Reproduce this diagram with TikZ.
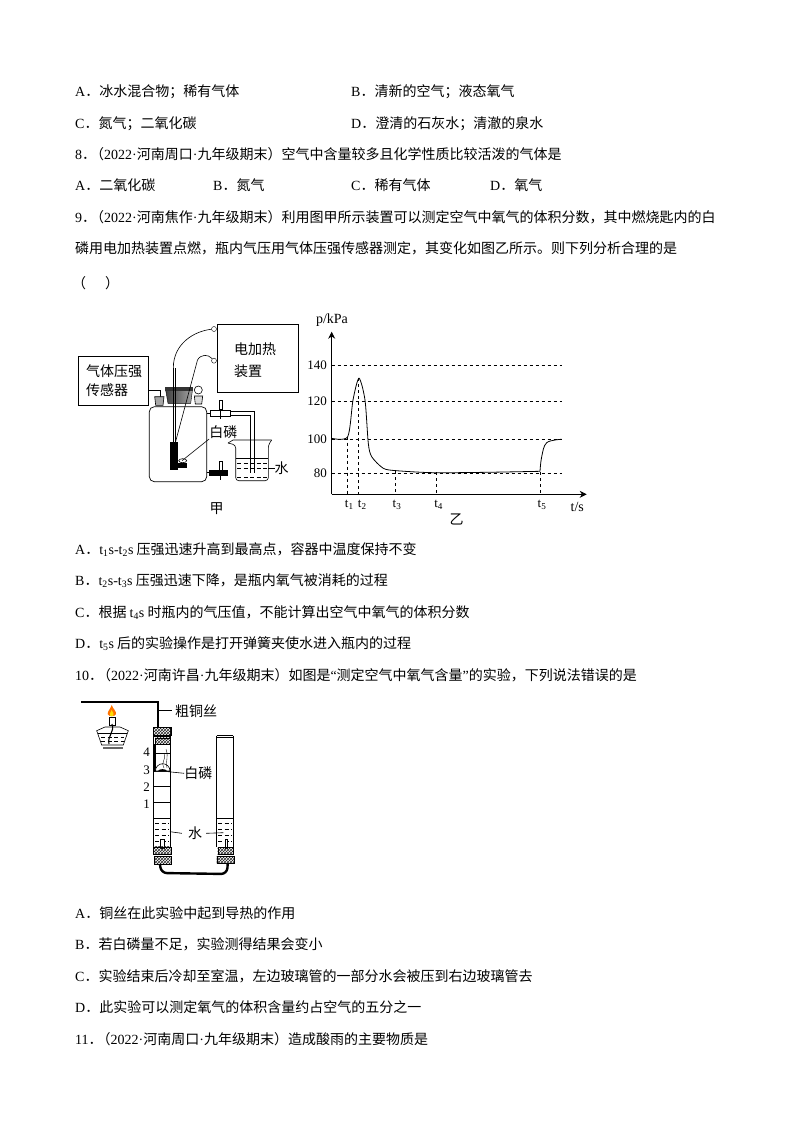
\documentclass[tikz,border=0pt]{standalone}
\usepackage{fontspec}
\setmainfont{Noto Sans CJK SC}
\newfontfamily\latfont{Liberation Serif}
\newcommand{\la}[1]{{\latfont #1}}
\newcommand{\tsub}[1]{{\latfont t\textsubscript{#1}}}
\newcommand{\hdr}[2]{\la{#1}．\hspace{-6pt}（\la{2022·}#2\la{·}}
\usetikzlibrary{arrows.meta,patterns}
\tikzset{
  txt/.style={anchor=west, inner sep=0pt, yshift=-0.6pt, font=\fontsize{14}{14}\selectfont},
  lbl/.style={inner sep=0pt, font=\fontsize{14}{14}\selectfont},
  axlbl/.style={inner sep=0pt, font=\fontsize{13}{13}\selectfont\latfont},
  devbox/.style={draw, line width=0.7pt},
  wire/.style={line width=0.6pt},
  thickwire/.style={line width=1.7pt},
  guide/.style={dashed, line width=0.6pt},
  corkfill/.style={draw, pattern=crosshatch, pattern color=black!85},
  waterline/.style={dash pattern=on 4pt off 2.5pt, line width=0.5pt}
}
\begin{document}
\begin{tikzpicture}[x=1pt,y=-1pt]
  \useasboundingbox (0,0) rectangle (794,1123);
  % Questoes acima da figura
  \node at (75,91) (q7a) [txt] {\la{A}．冰水混合物；稀有气体};
  \node at (351,91) (q7b) [txt] {\la{B}．清新的空气；液态氧气};
  \node at (75,123) (q7c) [txt] {\la{C}．氮气；二氧化碳};
  \node at (351,123) (q7d) [txt] {\la{D}．澄清的石灰水；清澈的泉水};
  \node at (75,154) (q8) [txt] {\hdr{8}{河南周口}九年级期末）空气中含量较多且化学性质比较活泼的气体是};
  \node at (75,185) (q8a) [txt] {\la{A}．二氧化碳};
  \node at (213,185) (q8b) [txt] {\la{B}．氮气};
  \node at (351,185) (q8c) [txt] {\la{C}．稀有气体};
  \node at (490,185) (q8d) [txt] {\la{D}．氧气};
  \node at (75,217) (q9) [txt] {\hdr{9}{河南焦作}九年级期末）利用图甲所示装置可以测定空气中氧气的体积分数，其中燃烧匙内的白};
  \node at (75,248) (q9l) [txt] {磷用电加热装置点燃，瓶内气压用气体压强传感器测定，其变化如图乙所示。则下列分析合理的是};
  \node at (72,283) (q9p) [txt] {（\hspace{19pt}）};

  % Aparelho do frasco (jia)
  \node at (113.3,380.7) (sensor) [devbox, minimum width=70pt, minimum height=49.3pt] {};
  \node at (86,371) (sensorA) [txt] {气体压强};
  \node at (86,390) (sensorB) [txt] {传感器};
  \node at (258,358.3) (heater) [devbox, minimum width=81.4pt, minimum height=68pt] {};
  \node at (234,349) (heaterA) [txt] {电加热};
  \node at (234,370.7) (heaterB) [txt] {装置};
  \draw[line width=0.7pt, rounded corners=5pt] (149.3,406.7) rectangle (206.7,481.7);
  \draw[wire] (148.3,390.7) -- (160,390.7) -- (160,396.7);
  \draw[wire, fill=black!35] (154.7,396.7) -- (164,396.7) -- (163,405.3) -- (155.7,405.3) -- cycle;
  \shade[left color=black!75, right color=black!35, draw=black] (165.3,388) -- (192.7,388) -- (190.7,403.3) -- (168,403.3) -- cycle;
  \fill[black!80] (165.3,387.3) rectangle (192.7,391);
  \draw[wire] (198.3,390) circle[radius=4];
  \draw[wire, fill=black!15] (194.3,396) -- (202.7,396) -- (201.7,404) -- (195.3,404) -- cycle;
  % fios ate o aquecedor
  \node at (214,329) (portA) [circle, draw, fill=white, inner sep=0pt, minimum size=5pt] {};
  \node at (214,360.7) (portB) [circle, draw, fill=white, inner sep=0pt, minimum size=5pt] {};
  \draw[wire] (portA) .. controls (195,331) and (173.3,343) .. (173.3,368);
  \draw[wire] (173.3,368) -- (173.3,442) (175,368) -- (175,442);
  \draw[wire] (portB) .. controls (208,354) and (201,354) .. (197.5,360) -- (175.5,442);
  % colher e fosforo
  \fill (170,442.3) rectangle (178.3,470);
  \fill (178.3,463.3) rectangle (186.7,468.3);
  \draw[wire, fill=white] (182.7,460.7) ellipse[x radius=4, y radius=2];
  \node at (223.3,432.3) (phosA) [lbl] {白磷};
  \draw[wire] (182,460.7) -- (phosA.south west);
  % pinca e tubo
  \draw[wire] (206.7,413.3) -- (210.7,413.3);
  \draw[wire] (210.7,410.7) rectangle (230.7,416);
  \draw[wire] (230.7,411.7) -- (254,411.7) -- (254,472.7);
  \draw[wire] (230.7,415) -- (250.7,415) -- (250.7,472.7);
  \draw[wire, fill=white] (219,400) rectangle (222.4,409);
  \draw[wire] (220.7,409) -- (220.7,419);
  \draw[wire] (206.7,472.7) -- (209,472.7);
  \fill (209,470) rectangle (228.3,475.7);
  \draw[wire, fill=white] (219,461) rectangle (222.4,470);
  \draw[wire] (220.7,470) -- (220.7,480);
  % bequer
  \draw[wire, rounded corners=3pt] (228,443) -- (235.7,445) -- (235.7,480.7) -- (268.3,480.7) -- (268.3,445) -- (271.7,440);
  \draw[wire] (228,443) -- (233,440) -- (271.7,440);
  \draw[wire] (235.7,458.3) -- (268.3,458.3);
  \foreach \yy in {463,468,477}
    \draw[waterline] (237,\yy) -- (267,\yy);
  \node at (281.7,468.3) (waterA) [lbl] {水};
  \draw[wire] (268.3,468.3) -- (waterA.west);
  \node at (216.7,509) (figA) [lbl] {甲};

  % Grafico (yi)
  \coordinate (O) at (331.7,494.3);
  \coordinate (ytop) at (331.7,331.7);
  \coordinate (xend) at (586.7,494.3);
  \draw[line width=0.8pt, -{Stealth[length=7pt,width=7pt]}] (O) -- (ytop);
  \draw[line width=0.8pt, -{Stealth[length=7pt,width=7pt]}] (O) -- (xend);
  \node at (332,320) (ylab) [axlbl, font=\fontsize{14}{14}\selectfont\latfont] {p/kPa};
  \node at (577.3,507.3) (xlab) [axlbl, font=\fontsize{14}{14}\selectfont\latfont] {t/s};
  \foreach \yy/\val in {365.3/140,401.3/120,439/100,473.3/80}{
    \draw[guide] (331.7,\yy) -- (562,\yy);
    \node at (327,\yy) (tick\val) [axlbl, anchor=east] {\val};
  }
  \draw[line width=0.8pt] plot[smooth, tension=0.45] coordinates {(331.7,438.3) (347.7,436.7) (353,400) (359,378.3) (365,400) (368.3,443.3) (371.7,456.7) (383.3,468.3) (396.7,470.7) (433.3,472.7) (486.7,472.3) (540,471.3)};
  \draw[line width=0.8pt] plot[smooth, tension=0.6] coordinates {(540,471.3) (541.7,456.7) (546.7,442.7) (561.7,439.3)};
  \foreach \xx/\ya/\nn/\xl in {347.7/436.7/1/349.3,358.7/378.3/2/362.3,395.7/471/3/397,436.3/472/4/438.7,540/472/5/542}{
    \draw[guide] (\xx,\ya) -- (\xx,494.3);
    \node at (\xl,504.5) (tlab\nn) [axlbl] {t\textsubscript{\nn}};
  }
  \node at (456.7,519) (figB) [lbl] {乙};

  % Opcoes da questao 9
  \node at (75,549) (q9a) [txt] {\la{A}．\tsub{1}\la{s-}\tsub{2}\la{s} 压强迅速升高到最高点，容器中温度保持不变};
  \node at (75,580) (q9b) [txt] {\la{B}．\tsub{2}\la{s-}\tsub{3}\la{s} 压强迅速下降，是瓶内氧气被消耗的过程};
  \node at (75,612) (q9c) [txt] {\la{C}．根据 \tsub{4}\la{s} 时瓶内的气压值，不能计算出空气中氧气的体积分数};
  \node at (75,643) (q9d) [txt] {\la{D}．\tsub{5}\la{s} 后的实验操作是打开弹簧夹使水进入瓶内的过程};
  \node at (75,675) (q10) [txt] {\hdr{10}{河南许昌}九年级期末）如图是\la{“}测定空气中氧气含量\la{”}的实验，下列说法错误的是};

  % Lamparina
  \draw[thickwire] (81,702.3) -- (157.7,702.3) -- (157.7,727.3);
  \node at (196,710.7) (copper) [lbl] {粗铜丝};
  \draw[wire] (158.3,710.7) -- ([xshift=-3pt]copper.west);
  \fill[orange!90!red] (111.7,705) .. controls (113,709) and (116.5,711) .. (116,714) .. controls (115,717) and (108.5,717) .. (107.7,714) .. controls (107.5,711) and (110.5,709) .. (111.7,705);
  \fill[yellow!80!orange] (111.7,710) .. controls (113,712) and (114,714) .. (113.5,716) -- (110,716) .. controls (109.5,714) and (110.5,712) .. (111.7,710);
  \draw[wire, fill=white] (108.8,717) rectangle (115,725);
  \draw[wire, fill=white] (96.7,730.7) -- (105,727) -- (120,727) -- (128.3,730.7) -- (123.3,745) -- (101.7,745) -- cycle;
  \draw[wire] (98,733) -- (127,733);
  \foreach \yy in {737,741}
    \draw[waterline] (101,\yy) -- (124,\yy);
  \draw[line width=1.1pt] (112,724) .. controls (115,732) and (107,736) .. (109,744);
  \fill[black!60] (102.7,746.5) rectangle (123.3,749.3);

  % Tubo da esquerda
  \draw[wire] (153.3,727.3) -- (153.3,846.7) (170.7,727.3) -- (170.7,846.7);
  \draw[corkfill] (153.3,727.3) rectangle (170.7,735);
  \draw[corkfill] (155,737.7) rectangle (170,744);
  \draw[wire] (153.3,736.3) -- (170.7,736.3);
  \draw[thickwire] (155,744) -- (155,771);
  \foreach \yy in {753.3,771,786.7,802.7}
    \draw[wire] (153.3,\yy) -- (170.7,\yy);
  \draw[wire, fill=white] (155.4,771) arc[start angle=180, end angle=360, radius=7.3] -- cycle;
  \fill (158,771) -- (167,771) .. controls (166,768.5) and (159,768.5) .. (158,771);
  \draw[line width=0.35pt] (164,768) .. controls (160,763) and (167,759) .. (164,753);
  \draw[line width=0.35pt] (167,768) .. controls (165,762) and (169,758) .. (166,749);
  \node at (146.7,752.7) (sc4) [axlbl] {4};
  \node at (146.7,770) (sc3) [axlbl] {3};
  \node at (146.7,787.3) (sc2) [axlbl] {2};
  \node at (146.7,804.3) (sc1) [axlbl] {1};
  \node at (198.3,773.3) (phosB) [lbl] {白磷};
  \draw[wire] (168.3,771.7) -- (phosB.west);
  \draw[wire] (153.3,818.3) -- (170.7,818.3);
  \foreach \yy in {823,829,835,841}
    \draw[waterline] (155,\yy) -- (169,\yy);
  \draw[wire, fill=white] (160.7,839.3) rectangle (164,848);
  \draw[corkfill] (153.3,846.7) rectangle (170.7,854);
  \draw[corkfill] (154.3,856) rectangle (170.7,864);
  \node at (195,833.3) (waterB) [lbl] {水};
  \draw[wire] (170,831.7) -- ([xshift=-6pt]waterB.west);
  % Tubo da direita
  \draw[wire] (216.7,735.7) -- (233.3,735.7) (216.7,737.7) -- (233.3,737.7);
  \draw[wire] (216.7,735.7) -- (216.7,847.3) (233.3,735.7) -- (233.3,847.3);
  \draw[wire] (216.7,818.3) -- (233.3,818.3);
  \foreach \yy in {823,829,835,841}
    \draw[waterline] (218,\yy) -- (232,\yy);
  \draw[wire, fill=white] (225,839.3) rectangle (227.7,848);
  \draw[corkfill] (217.7,847.3) rectangle (233.3,854);
  \draw[corkfill] (216.7,856) rectangle (234,863.3);
  \draw[wire] ([xshift=4pt]waterB.east) -- (223.3,832.7);
  % Tubo de borracha
  \draw[line width=2.4pt, rounded corners=6pt] (160,864) -- (161,873) -- (227,874) -- (227.7,864);

  % Opcoes da questao 10
  \node at (75,913) (q10a) [txt] {\la{A}．铜丝在此实验中起到导热的作用};
  \node at (75,944) (q10b) [txt] {\la{B}．若白磷量不足，实验测得结果会变小};
  \node at (75,976) (q10c) [txt] {\la{C}．实验结束后冷却至室温，左边玻璃管的一部分水会被压到右边玻璃管去};
  \node at (75,1007) (q10d) [txt] {\la{D}．此实验可以测定氧气的体积含量约占空气的五分之一};
  \node at (75,1039) (q11) [txt] {\hdr{11}{河南周口}九年级期末）造成酸雨的主要物质是};
\end{tikzpicture}
\end{document}
